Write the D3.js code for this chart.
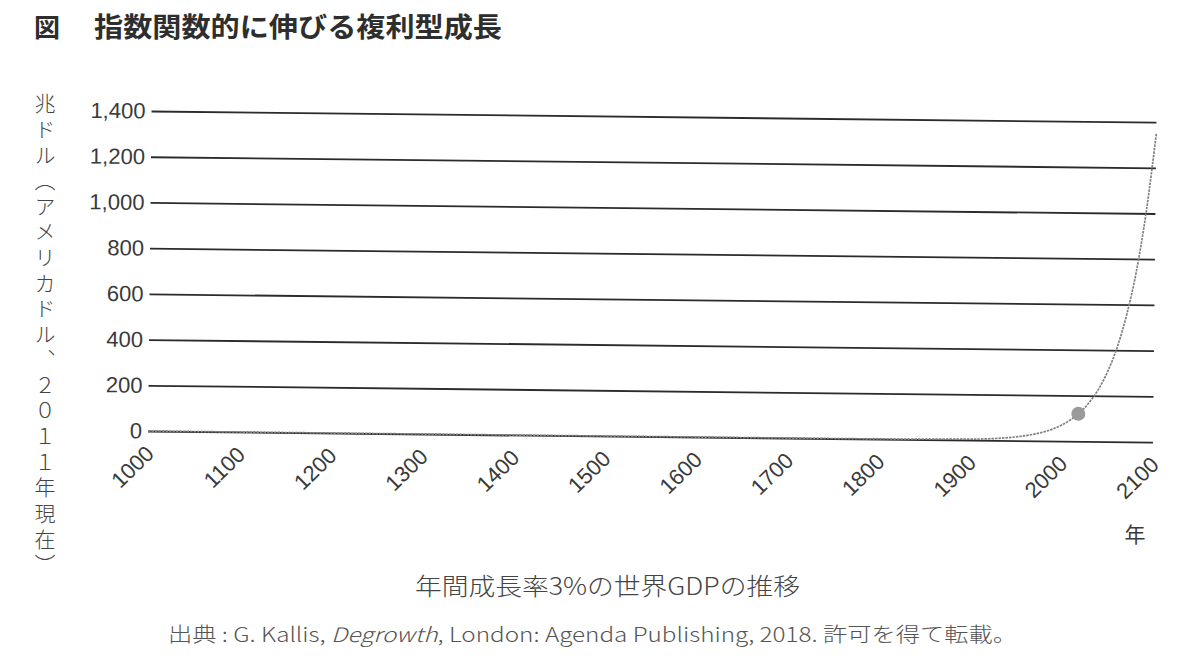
<!DOCTYPE html>
<html lang="ja">
<head>
<meta charset="UTF-8">
<title>指数関数的に伸びる複利型成長</title>
<script src="https://d3js.org/d3.v7.min.js"></script>
<style>
  body { margin: 0; background: #fff; }
  svg text { font-family: "Liberation Sans", Arial, sans-serif; fill: #3a3a3a; }
  .jp { font-family: "Noto Sans CJK JP", sans-serif; }
</style>
</head>
<body>
<div id="chart"></div>
<script>
// 世界GDP（兆ドル、2011年現在）— 図から読み取った値
const years = [1000, 1100, 1200, 1300, 1400, 1500, 1600, 1700, 1800, 1900, 1950, 1970, 1990, 2000, 2010, 2018, 2030, 2040, 2050, 2060, 2070, 2080, 2090, 2100];
const gdp   = [0, 0, 0, 0, 0, 0, 0, 0, 0.5, 4, 16, 29, 52, 70, 95, 120, 171, 230, 310, 416, 560, 750, 1010, 1350];
const xTicks = [1000, 1100, 1200, 1300, 1400, 1500, 1600, 1700, 1800, 1900, 2000, 2100];
const yTicks = [0, 200, 400, 600, 800, 1000, 1200, 1400];
const markYear = 2018;

const W = 1194, H = 672;
const plotL = 148, plotR = 1153, plotT = 111, plotB = 431;

const svg = d3.select("#chart").append("svg")
  .attr("width", W)
  .attr("height", H);

// タイトル
svg.append("text").attr("class", "jp")
  .attr("x", 34).attr("y", 37)
  .style("font-size", "26px").style("font-weight", "bold").style("fill", "#2e2e2e")
  .text("図");
svg.append("text").attr("class", "jp")
  .attr("x", 94).attr("y", 37)
  .style("font-size", "27px").style("font-weight", "bold").style("fill", "#2e2e2e")
  .attr("textLength", 408).attr("lengthAdjust", "spacingAndGlyphs")
  .text("指数関数的に伸びる複利型成長");

const x = d3.scaleLinear().domain([1000, 2100]).range([plotL, plotR]);
const y = d3.scaleLinear().domain([0, 1400]).range([plotB, plotT]);

// スキャンのわずかな傾き
const g = svg.append("g").attr("transform", `rotate(0.63, ${plotL}, ${plotB})`);

// 目盛線とy軸
const yAxis = g.append("g")
  .attr("transform", `translate(${plotL},0)`)
  .call(d3.axisLeft(y).tickValues(yTicks).tickFormat(d3.format(",")).tickSize(-(plotR - plotL)).tickPadding(6));
yAxis.select(".domain").remove();
yAxis.selectAll(".tick line").attr("stroke", "#2b2b2b").attr("stroke-width", 1.8);
yAxis.selectAll(".tick text").style("font-size", "22px").style("fill", "#3a3a3a");

// x軸
const xAxis = g.append("g")
  .attr("transform", `translate(0,${plotB})`)
  .call(d3.axisBottom(x).tickValues(xTicks).tickFormat(d3.format("d")).tickSize(0));
xAxis.select(".domain").remove();
xAxis.selectAll(".tick text")
  .attr("x", 0).attr("y", 0).attr("dy", 0)
  .attr("text-anchor", "end")
  .attr("transform", "translate(7,24) rotate(-45)")
  .style("font-size", "22px").style("fill", "#3a3a3a");

// 曲線
const line = d3.line()
  .x((d, i) => x(years[i]))
  .y(d => y(d))
  .curve(d3.curveMonotoneX);
g.append("path")
  .datum(gdp)
  .attr("d", line)
  .attr("fill", "none")
  .attr("stroke", "#808080")
  .attr("stroke-width", 1.7)
  .attr("stroke-dasharray", "2.5,1");

g.append("circle")
  .attr("cx", x(markYear))
  .attr("cy", y(gdp[years.indexOf(markYear)]))
  .attr("r", 7)
  .attr("fill", "#9a9a9a");

// 年
svg.append("text").attr("class", "jp")
  .attr("x", 1135).attr("y", 542)
  .attr("text-anchor", "middle")
  .style("font-size", "21px")
  .text("年");

// 縦書きの軸ラベル
svg.append("text").attr("class", "jp")
  .attr("x", 45).attr("y", 93)
  .style("writing-mode", "vertical-rl")
  .style("text-orientation", "mixed")
  .style("font-size", "21px")
  .style("font-weight", "300")
  .style("letter-spacing", "4.6px")
  .style("fill", "#444")
  .text("兆ドル（アメリカドル、２０１１年現在）");

// 副題と出典
svg.append("text").attr("class", "jp")
  .attr("x", 415).attr("y", 595)
  .style("font-size", "24px").style("font-weight", "300").style("fill", "#444")
  .attr("textLength", 385).attr("lengthAdjust", "spacingAndGlyphs")
  .text("年間成長率3%の世界GDPの推移");

const src = svg.append("text").attr("class", "jp")
  .attr("x", 168).attr("y", 642)
  .style("font-size", "20px").style("font-weight", "300").style("fill", "#555")
  .attr("textLength", 849).attr("lengthAdjust", "spacingAndGlyphs");
src.append("tspan").text("出典 : G. Kallis, ");
src.append("tspan").style("font-style", "italic").text("Degrowth");
src.append("tspan").text(", London: Agenda Publishing, 2018.  許可を得て転載。");
</script>
</body>
</html>
